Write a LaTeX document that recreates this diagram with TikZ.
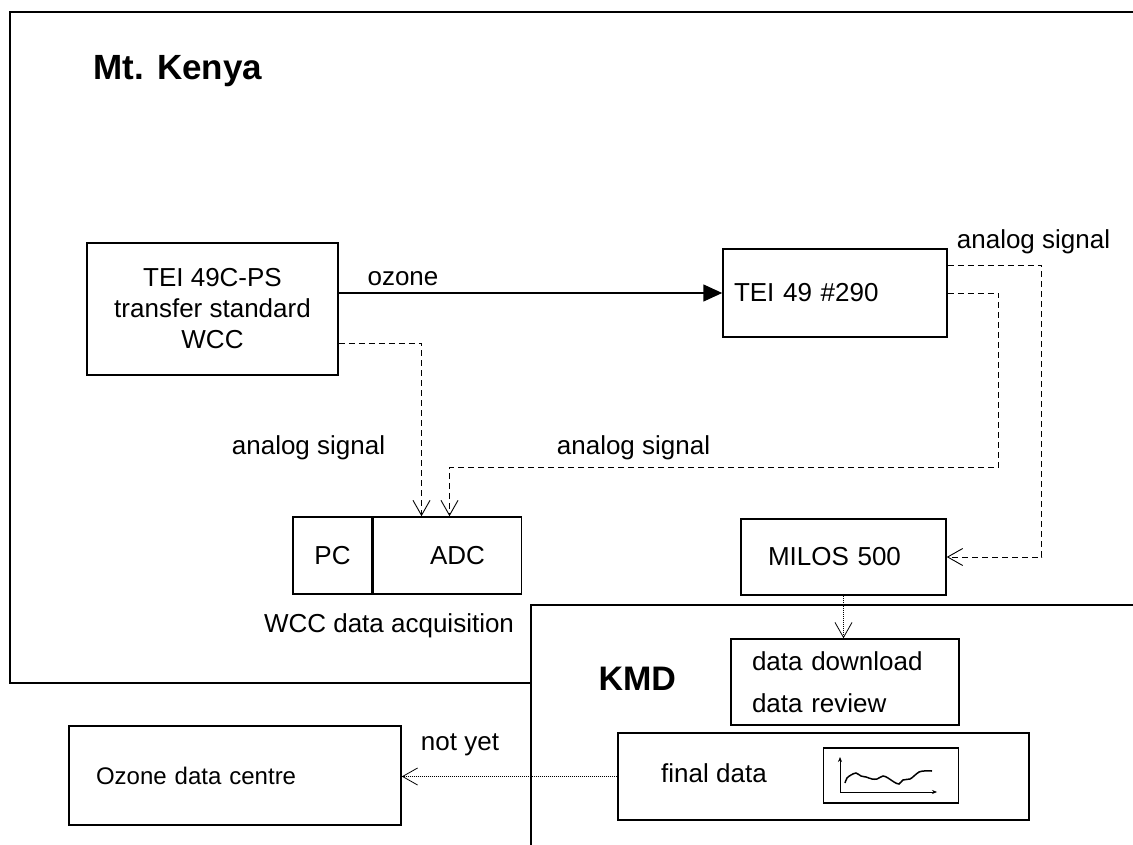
\documentclass[tikz,border=0pt]{standalone}
\usepackage{fontspec}
\setmainfont{Liberation Sans}
\usetikzlibrary{arrows.meta}

\begin{document}
\begin{tikzpicture}[x=1pt, y=-1pt, >={Straight Barb[length=15pt,width=17pt]},
    box/.style={draw, line width=1.5pt, inner sep=0pt},
    txt/.style={font=\fontsize{26}{31}\selectfont},
    sig/.style={->, dash pattern=on 6pt off 4pt, line width=0.9pt},
    dots/.style={->, dash pattern=on 0.8pt off 1.2pt, line width=0.8pt}]
    \useasboundingbox (0,0) rectangle (1133,845);
    % site borders
    \draw[line width=1.2pt] (531,683) -- (10,683) -- (10,12) -- (1133,12);
    \draw[line width=1.2pt] (531,845) -- (531,605) -- (1133,605);
    \node[anchor=base west, font=\fontsize{35}{40}\selectfont\bfseries] (kenya) at (90,80) {Mt. Kenya};
    \node[anchor=base west, font=\fontsize{34}{40}\selectfont\bfseries] (kmd) at (595,690) {KMD};

    % instruments
    \node[box, txt, minimum width=251pt, minimum height=132pt, align=center] (tei49c) at (212.5,309) {TEI 49C-PS\\transfer standard\\WCC};
    \node[box, txt, minimum height=88pt, text width=202pt, inner xsep=11pt, align=left] (tei49) at (835,293) {TEI 49 \#290};
    \node[box, txt, minimum height=76pt, text width=151pt, inner xsep=27pt, align=left] (milos) at (843.5,557) {MILOS 500};
    \node[box, txt, minimum width=79pt, minimum height=77pt] (pc) at (332.5,555.5) {PC};
    \node[box, txt, minimum width=148pt, minimum height=77pt, anchor=west] (adc) at (pc.east) {\hspace*{20pt}ADC};
    \node[txt] (wccdaq) at (389,626) {WCC data acquisition};

    % KMD side
    \node[box, font=\fontsize{26}{42}\selectfont, minimum height=86pt, text width=186pt, inner xsep=21pt, align=left] (dl) at (845,682) {data download\\data review};
    \node[box, minimum width=411pt, minimum height=87pt] (final) at (823.5,776.5) {};
    \node[txt] (finaltxt) at (714,773) {final data};
    \node[box, minimum width=135pt, minimum height=55pt] (chart) at (891,775.5) {};
    \draw[line width=0.7pt, -{Stealth[length=5pt,width=4pt]}] (840,792) -- (840,757);
    \draw[line width=0.7pt, -{Stealth[length=5pt,width=4pt]}] (840,792) -- (937,792);
    \draw[line width=1.5pt] plot[smooth, tension=0.5] coordinates {(845,783) (847,778) (851,775) (856,773) (861,776) (866,777) (872,779) (877,779) (883,776) (888,778) (894,782) (899,784) (903,780) (910,779) (914,776) (919,772) (924,771) (932,771)};
    \node[box, font=\fontsize{24}{29}\selectfont, minimum height=99pt, text width=278pt, inner xsep=27pt, align=left] (odc) at (235,775.5) {Ozone data centre};

    % connections
    \draw[-{Triangle[length=19pt,width=17pt]}, line width=1.5pt] (tei49c.east |- tei49.west) -- (tei49.west);
    \node[txt] (lozone) at (403,279) {ozone};
    \draw[sig] ([yshift=-34pt]tei49c.east) -| ([xshift=-26pt]adc.north);
    \draw[sig] (tei49.east) -- ++(51,0) -- ++(0,174) -| ([xshift=2pt]adc.north);
    \draw[sig] ([yshift=-17pt]tei49.north east) -- ++(94,0) |- (milos.east);
    \node[txt] (lsig1) at (308.5,448) {analog signal};
    \node[txt] (lsig2) at (633.5,448) {analog signal};
    \node[txt] (lsig3) at (1033.5,242) {analog signal};
    \draw[dots] (milos.south) -- (milos.south |- dl.north);
    \draw[dots] (final.west) -- (final.west -| odc.east);
    \node[txt] (lnotyet) at (460,745) {not yet};
\end{tikzpicture}
\end{document}
